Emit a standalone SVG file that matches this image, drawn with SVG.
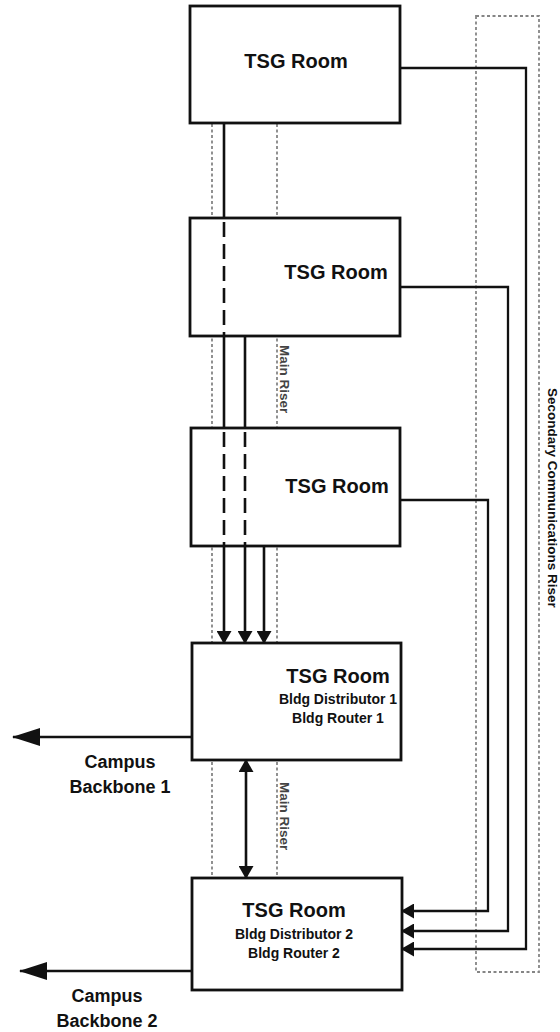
<svg xmlns="http://www.w3.org/2000/svg" width="560" height="1032" viewBox="0 0 560 1032">
<style>
.box{fill:#fff;stroke:#111;stroke-width:2.8}
.riser{fill:none;stroke:#858585;stroke-width:1.8;stroke-dasharray:3 2.5}
.ln{fill:none;stroke:#111;stroke-width:2.6}
.ln2{fill:none;stroke:#111;stroke-width:2.3}
.dash{stroke-dasharray:15 7}
.t{font-family:"Liberation Sans",Arial,sans-serif;font-weight:bold;fill:#111;text-anchor:middle}
.big{font-size:20px}
.sm{font-size:14px}
.lbl{font-size:18px}
.rl{font-family:"Liberation Sans",Arial,sans-serif;font-weight:bold}
</style>
<defs>
<marker id="ah" markerUnits="userSpaceOnUse" markerWidth="13" markerHeight="15" viewBox="0 0 13 15" refX="12" refY="7.5" orient="auto-start-reverse">
<path d="M0,0 L13,7.5 L0,15 z" fill="#111"/>
</marker>
<marker id="bah" markerUnits="userSpaceOnUse" markerWidth="28" markerHeight="18" viewBox="0 0 28 18" refX="27" refY="9" orient="auto">
<path d="M0,0 L28,9 L0,18 z" fill="#111"/>
</marker>
</defs>

<g id="risers">
<line class="riser" x1="212" y1="124" x2="212" y2="878"/>
<line class="riser" x1="277" y1="124" x2="277" y2="878"/>
<rect class="riser" x="476" y="16" width="63" height="956"/>
</g>

<g id="room1"><rect class="box" x="190" y="6" width="210" height="117"/><text class="t big" x="296" y="68">TSG Room</text></g>
<g id="room2"><rect class="box" x="190" y="218" width="210" height="118"/><text class="t big" x="336" y="279">TSG Room</text></g>
<g id="room3"><rect class="box" x="191" y="428" width="209" height="118"/><text class="t big" x="337" y="493">TSG Room</text></g>
<g id="room4"><rect class="box" x="192" y="643" width="209" height="117"/>
<text class="t big" x="338" y="683">TSG Room</text>
<text class="t sm" x="338" y="704">Bldg Distributor 1</text>
<text class="t sm" x="338" y="723">Bldg Router 1</text></g>
<g id="room5"><rect class="box" x="192" y="878" width="210" height="112"/>
<text class="t big" x="294" y="917">TSG Room</text>
<text class="t sm" x="294" y="939">Bldg Distributor 2</text>
<text class="t sm" x="294" y="958">Bldg Router 2</text></g>

<g id="connectors">
<line class="ln" x1="224" y1="123" x2="224" y2="218"/>
<line class="ln dash" x1="224" y1="222" x2="224" y2="336"/>
<line class="ln" x1="224" y1="336" x2="224" y2="428"/>
<line class="ln dash" x1="224" y1="432" x2="224" y2="546"/>
<line class="ln" x1="224" y1="546" x2="224" y2="643" marker-end="url(#ah)"/>
<line class="ln" x1="245" y1="336" x2="245" y2="428"/>
<line class="ln dash" x1="245" y1="432" x2="245" y2="546"/>
<line class="ln" x1="245" y1="546" x2="245" y2="643" marker-end="url(#ah)"/>
<line class="ln" x1="264" y1="546" x2="264" y2="643" marker-end="url(#ah)"/>
<line class="ln" x1="246" y1="760" x2="246" y2="878" marker-start="url(#ah)" marker-end="url(#ah)"/>
<polyline class="ln2" points="400,68 526,68 526,949 402,949" marker-end="url(#ah)"/>
<polyline class="ln2" points="400,287 508,287 508,931 402,931" marker-end="url(#ah)"/>
<polyline class="ln2" points="400,500 488,500 488,911 402,911" marker-end="url(#ah)"/>
<line class="ln" x1="192" y1="737" x2="13" y2="737" marker-end="url(#bah)"/>
<line class="ln" x1="192" y1="971" x2="20" y2="971" marker-end="url(#bah)"/>
</g>

<g id="labels">
<text class="t lbl" x="120" y="768">Campus</text>
<text class="t lbl" x="120" y="793">Backbone 1</text>
<text class="t lbl" x="107" y="1002">Campus</text>
<text class="t lbl" x="107" y="1027">Backbone 2</text>
<text class="rl" font-size="13.5" fill="#444" transform="translate(280,345) rotate(90)">Main Riser</text>
<text class="rl" font-size="13.5" fill="#444" transform="translate(280,782) rotate(90)">Main Riser</text>
<text class="rl" font-size="13.5" fill="#111" transform="translate(548,388) rotate(90)">Secondary Communications Riser</text>
</g>
</svg>
